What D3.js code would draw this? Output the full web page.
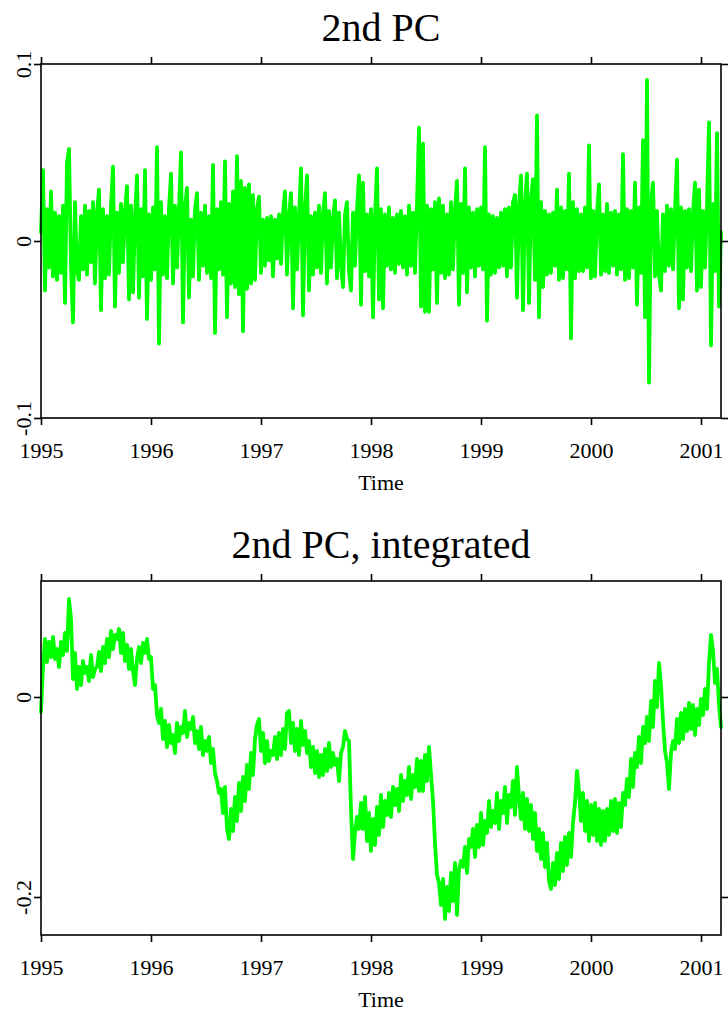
<!DOCTYPE html>
<html>
<head>
<meta charset="utf-8">
<script src="https://cdn.jsdelivr.net/npm/d3@7"></script>
<style>
  body { margin: 0; background: #ffffff; }
  svg { display: block; }
  text { font-family: "Liberation Serif", "Times New Roman", serif; fill: #000; }
</style>
</head>
<body>
<script>
// Time index of both series: observations per year, starting at 1995.0
const seriesStart = 1995;
const seriesFrequency = 55;

const yearTicks = [1995, 1996, 1997, 1998, 1999, 2000, 2001];
const pcTicks = [-0.1, 0, 0.1];
const pcTickLabels = ["-0.1", "0", "0.1"];
const integratedTicks = [-0.2, 0];
const integratedTickLabels = ["-0.2", "0"];

// 2nd principal component (units of 0.001)
const pcValues = [
  5,40,-28,18,-15,28,-20,16,-22,14,
  -18,20,-35,44,52,-14,-46,22,-17,-22,
  14,-16,20,-19,17,-12,22,-24,16,29,
  -39,18,-21,14,-19,20,42,-37,16,-18,
  21,-12,17,31,-33,20,-29,13,37,-32,
  18,-20,40,-44,15,-22,19,-16,53,-58,
  22,-19,14,-21,18,38,-24,20,-15,17,
  50,-46,19,30,-32,12,-20,18,27,-22,
  16,-14,20,-18,14,-21,43,-52,18,-16,
  22,-19,45,-43,21,-24,28,-26,48,-30,
  34,-51,30,-27,32,-24,26,-22,18,25,
  -18,12,-14,13,-11,14,-20,12,-10,15,
  -13,16,28,-19,14,27,-38,19,-16,14,
  41,-42,18,37,-28,14,-19,16,-15,20,
  -18,15,27,-24,17,-15,13,23,-21,16,
  -14,-26,15,22,-17,-28,16,-14,18,37,
  -36,33,-17,15,-20,18,-43,14,41,-33,
  18,-38,15,-14,19,-16,13,-18,15,-13,
  17,-15,14,-19,20,-14,16,-18,21,64,
  -37,55,-40,20,-40,18,-16,22,-35,24,
  -18,20,-21,15,-19,22,-16,18,34,-36,
  21,-18,41,-29,19,-15,16,-20,18,-14,
  19,-16,53,-45,15,-19,14,-18,13,-15,
  16,-14,18,-20,19,-15,22,26,-32,20,
  37,-39,21,38,-35,24,35,-22,71,-43,
  22,-26,17,-19,15,-18,16,-14,29,-22,
  19,-21,17,-16,38,-55,22,-21,18,-17,
  15,-17,19,-15,54,-21,17,-20,16,32,
  -19,15,-17,21,-18,16,-14,17,-19,15,
  -16,49,-22,18,-21,17,-15,33,-36,19,
  -18,57,-43,91,-80,22,33,-20,17,-19,
  -28,15,-17,20,-14,18,-16,17,46,-38,
  19,-33,17,-15,18,-17,16,33,-28,29,
  -26,17,-15,19,67,-59,21,-17,61,-37,
  5
];

// 2nd principal component, integrated (units of 0.001)
const integratedValues = [
  -15,30,58,35,55,40,60,38,48,30,
  55,42,64,46,98,78,18,44,8,30,
  12,36,24,30,16,42,20,28,30,45,
  26,50,34,58,40,66,48,62,58,68,
  44,64,36,52,28,48,26,12,38,50,
  34,54,44,58,38,40,8,12,-18,-26,
  -12,-42,-24,-50,-28,-46,-38,-56,-26,-44,
  -30,-36,-14,-40,-26,-32,-20,-46,-34,-52,
  -30,-58,-44,-54,-40,-66,-52,-76,-84,-96,
  -92,-116,-90,-132,-142,-112,-134,-100,-124,-86,
  -114,-80,-104,-68,-92,-56,-78,-42,-28,-22,
  -54,-36,-66,-44,-64,-54,-58,-40,-62,-36,
  -58,-32,-52,-16,-14,-46,-26,-54,-32,-58,
  -24,-48,-34,-56,-44,-70,-50,-76,-54,-80,
  -58,-78,-52,-74,-46,-70,-56,-68,-62,-84,
  -56,-50,-34,-42,-44,-112,-162,-136,-120,-132,
  -106,-132,-100,-144,-116,-154,-122,-148,-110,-138,
  -98,-130,-104,-118,-96,-120,-90,-108,-92,-114,
  -78,-104,-84,-98,-70,-102,-78,-90,-62,-94,
  -64,-94,-58,-84,-50,-78,-104,-146,-178,-186,
  -208,-182,-222,-190,-214,-176,-204,-166,-218,-172,
  -164,-170,-150,-176,-142,-150,-132,-160,-128,-150,
  -116,-148,-124,-136,-104,-130,-114,-126,-96,-132,
  -104,-116,-90,-126,-98,-110,-84,-118,-70,-100,
  -122,-96,-132,-102,-134,-108,-142,-116,-154,-132,
  -162,-136,-170,-146,-184,-192,-166,-188,-156,-182,
  -146,-174,-140,-168,-136,-160,-126,-106,-74,-94,
  -124,-96,-134,-104,-144,-108,-138,-106,-144,-112,
  -148,-114,-144,-112,-138,-104,-134,-102,-136,-106,
  -130,-96,-108,-82,-100,-62,-90,-56,-70,-40,
  -66,-30,-46,-20,-44,-4,-30,16,-10,34,
  12,-24,-54,-66,-92,-56,-44,-52,-22,-46,
  -16,-42,-12,-34,-6,-32,-8,-38,-12,-28,
  -2,-18,8,-12,34,62,46,14,28,-8,
  -30
];

const width = 728, height = 1016;
const svg = d3.select("body").append("svg")
  .attr("width", width).attr("height", height);

const plotLeft = 41, plotRight = 721;
const x = d3.scaleLinear()
  .domain([seriesStart, seriesStart + (pcValues.length - 1) / seriesFrequency])
  .range([plotLeft, plotRight]);

function drawPanel(opts) {
  const { values, top, bottom, domain, ticks, tickLabels, title } = opts;
  const y = d3.scaleLinear().domain(domain).range([bottom, top]);
  const g = svg.append("g");
  const tickLen = 7;

  // series
  const line = d3.line()
    .x((d, i) => x(seriesStart + i / seriesFrequency))
    .y(d => y(d / 1000));
  g.append("path")
    .datum(values)
    .attr("d", line)
    .attr("fill", "none")
    .attr("stroke", "#00ff00")
    .attr("stroke-width", 3.8)
    .attr("stroke-linejoin", "round")
    .attr("stroke-linecap", "round");

  // bottom axis with year labels
  const xAxis = g.append("g")
    .attr("transform", `translate(0,${bottom})`)
    .call(d3.axisBottom(x).tickValues(yearTicks).tickSize(tickLen).tickSizeOuter(0)
      .tickFormat(d3.format("d")));
  xAxis.selectAll("text").attr("y", 40).attr("dy", null).style("font-size", "22px");

  // top axis, ticks only
  g.append("g")
    .attr("transform", `translate(0,${top})`)
    .call(d3.axisTop(x).tickValues(yearTicks).tickSize(tickLen).tickSizeOuter(0)
      .tickFormat(() => ""));

  // left axis with rotated labels
  const yAxis = g.append("g")
    .attr("transform", `translate(${plotLeft},0)`)
    .call(d3.axisLeft(y).tickValues(ticks).tickSize(tickLen).tickSizeOuter(0)
      .tickFormat((d, i) => tickLabels[i]));
  yAxis.selectAll("text")
    .attr("x", null).attr("dy", null)
    .attr("transform", "translate(-10,0) rotate(-90)")
    .attr("text-anchor", "middle")
    .style("font-size", "22px");

  // right axis, ticks only
  g.append("g")
    .attr("transform", `translate(${plotRight},0)`)
    .call(d3.axisRight(y).tickValues(ticks).tickSize(tickLen).tickSizeOuter(0)
      .tickFormat(() => ""));

  g.selectAll(".domain").remove();
  g.selectAll(".tick line").attr("stroke", "#000").attr("stroke-width", 1.6);

  // frame
  g.append("rect")
    .attr("x", plotLeft).attr("y", top)
    .attr("width", plotRight - plotLeft).attr("height", bottom - top)
    .attr("fill", "none").attr("stroke", "#000").attr("stroke-width", 1.6);

  // title and x label
  g.append("text")
    .attr("x", (plotLeft + plotRight) / 2).attr("y", top - 23)
    .attr("text-anchor", "middle").style("font-size", "40px")
    .text(title);
  g.append("text")
    .attr("x", (plotLeft + plotRight) / 2).attr("y", bottom + 72)
    .attr("text-anchor", "middle").style("font-size", "22px")
    .text("Time");
}

drawPanel({
  values: pcValues, top: 64, bottom: 418,
  domain: [-0.1, 0.1], ticks: pcTicks, tickLabels: pcTickLabels,
  title: "2nd PC"
});
drawPanel({
  values: integratedValues, top: 581, bottom: 935,
  domain: [-0.238, 0.116], ticks: integratedTicks, tickLabels: integratedTickLabels,
  title: "2nd PC, integrated"
});
</script>
</body>
</html>
